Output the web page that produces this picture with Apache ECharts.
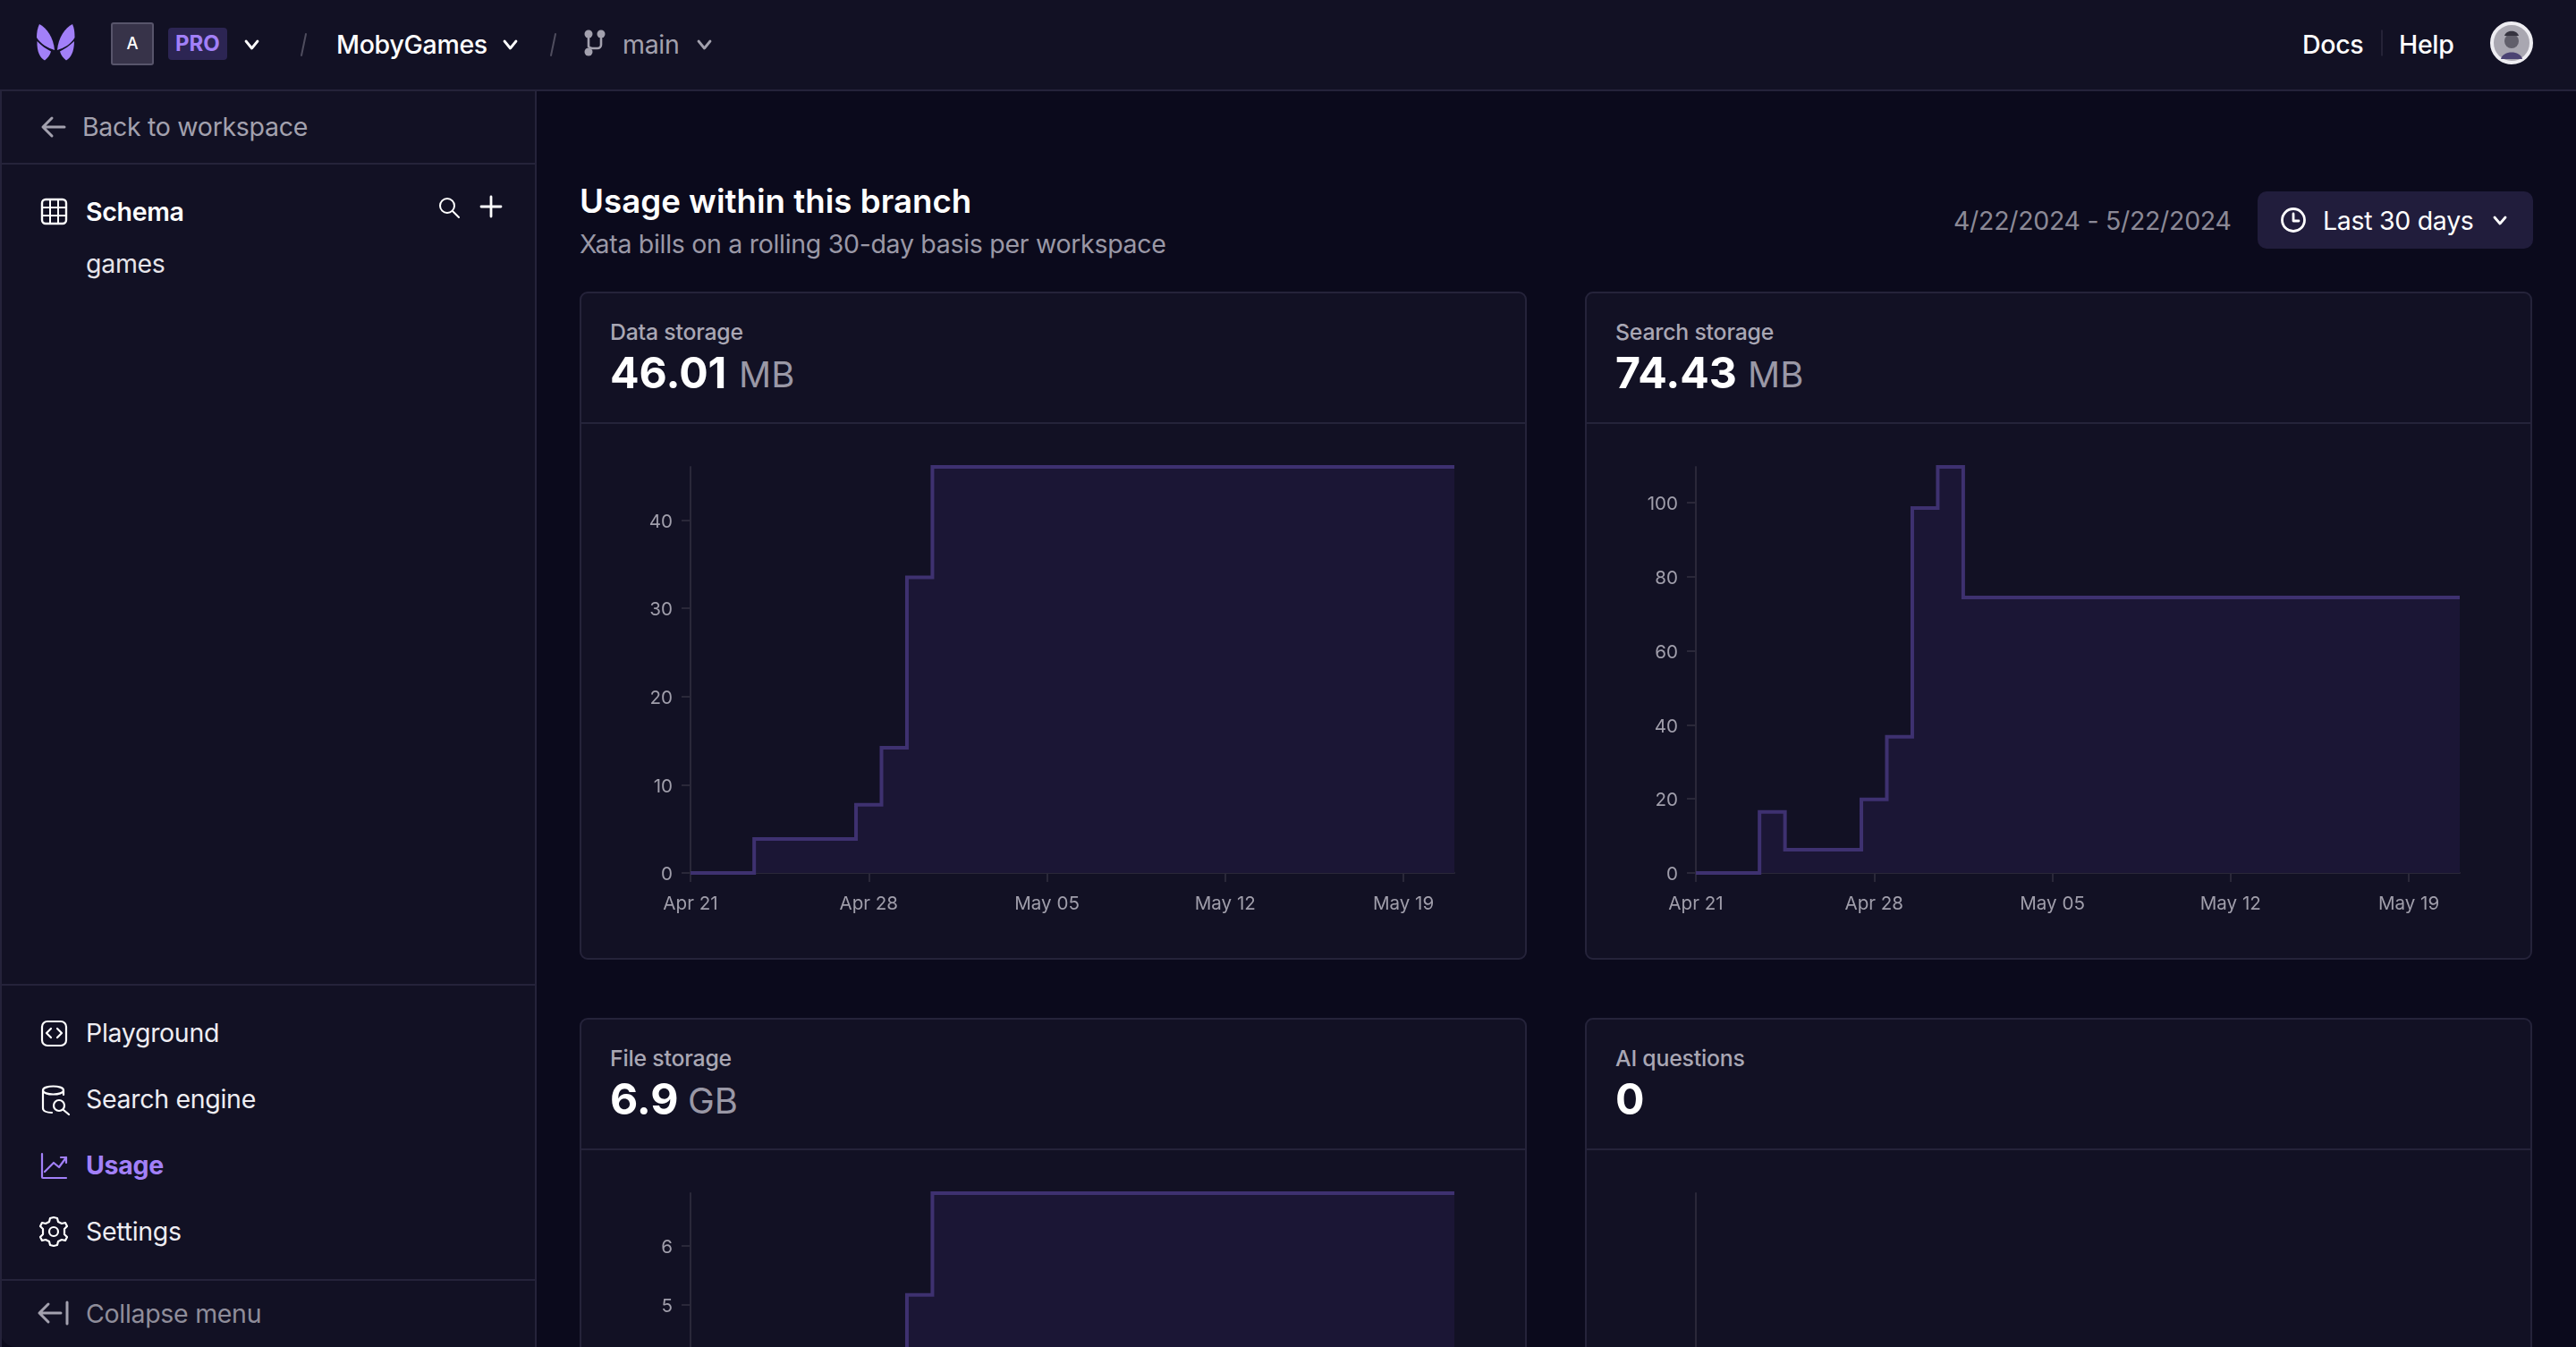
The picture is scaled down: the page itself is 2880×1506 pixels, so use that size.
<!DOCTYPE html>
<html><head><meta charset="utf-8">
<script src="https://cdn.jsdelivr.net/npm/echarts@6/dist/echarts.min.js"></script>
<style>
html,body{margin:0;padding:0;width:2880px;height:1506px;overflow:hidden;background:#0b0a1c;font-family:Inter,sans-serif;color:#fff}
.abs{position:absolute}
.t{position:absolute;white-space:nowrap;transform:translateY(-50%);line-height:1;font-size:28.5px;letter-spacing:-0.3px}
.k{font-size:24.8px;letter-spacing:-0.2px;font-weight:500;color:#a9a7b4}
.v{font-size:48.2px;letter-spacing:0;font-weight:700}
.u{font-size:40px;letter-spacing:0;color:#9a98a6}
.g{color:#a3a1ae}
.line{position:absolute;background:#25233a}
.card{position:absolute;box-sizing:border-box;background:#121124;border:2px solid #25233a;border-radius:9px;width:1059px;height:747px}
svg{position:absolute;fill:none;stroke-linecap:round;stroke-linejoin:round;overflow:visible}
#chart{position:absolute;left:0;top:0;width:2880px;height:1506px;z-index:5}
</style></head><body>
<!-- top bar and sidebar -->
<div class="abs" style="left:0;top:0;width:2880px;height:100px;background:#121124"></div>
<div class="abs" style="left:0;top:100px;width:598px;height:1406px;background:#121124;border-bottom-left-radius:18px"></div>
<div class="line" style="left:0;top:100px;width:2880px;height:2px"></div>
<div class="line" style="left:598px;top:100px;width:2px;height:1406px"></div>
<div class="line" style="left:0;top:100px;width:2px;height:1406px"></div>
<div class="line" style="left:0;top:182px;width:598px;height:2px"></div>
<div class="line" style="left:0;top:1100px;width:598px;height:2px"></div>
<div class="line" style="left:0;top:1430px;width:598px;height:2px"></div>

<svg style="left:0;top:0" width="100" height="90">
<g fill="#a280f8" stroke="none">
<path d="M44 27C52 31 60 42 61 56C54 54 45 49 41 42C41 36 42 31 44 27Z"/>
<path d="M81 27C73 31 65 42 64 56C71 54 80 49 83.500 42C83.500 36 83 31 81 27Z"/>
<path d="M41.500 46C46 51 52 55 57 57.500C56 62 53 65 50 67.500C45 65 41 58 41.500 46Z"/>
<path d="M83 46C78 51 72 55 67 57.500C68 62 71 65 74 67.500C79 65 83 58 83 46Z"/>
</g></svg>
<div class="abs" style="left:124px;top:25px;width:48px;height:48px;box-sizing:border-box;background:#373349;border:2px solid #58556b;border-radius:3px"></div>
<div class="t" style="left:148px;top:48px;font-size:18.5px;letter-spacing:0;transform:translate(-50%,-50%);font-weight:500">A</div>
<div class="abs" style="left:188px;top:31px;width:66px;height:36px;background:#2c2553;border-radius:4px"></div>
<div class="t" style="left:196px;top:49px;font-size:24px;letter-spacing:0;font-weight:700;color:#a280f8">PRO</div>
<svg style="left:0;top:0" width="10" height="10" stroke="#fff">
<path d="M275 46l6.500 8 6.500-8" stroke="#fff" stroke-width="2.800"/>
<path d="M564 46l6.500 8 6.500-8" stroke="#fff" stroke-width="2.800"/>
<path d="M781 46l6.500 8 6.500-8" stroke="#a3a1ae" stroke-width="2.800"/>
<path d="M342 38l-5 24" stroke="#4f4d5e" stroke-width="2"/>
<path d="M621 38l-5 24" stroke="#4f4d5e" stroke-width="2"/>
<path d="M658 40v12M658 52a6 4 0 0 0 4 2h6a4 4 0 0 0 4-4v-7" stroke="#a3a1ae" stroke-width="2.600"/>
<circle cx="658" cy="38" r="4.500" fill="#a3a1ae" stroke="none"/><circle cx="672" cy="38" r="4.500" fill="#a3a1ae" stroke="none"/><circle cx="658" cy="58" r="4.500" fill="#a3a1ae" stroke="none"/>
<!-- sidebar icons -->
<path d="M72 142H48M58 132l-10 10 10 10" stroke="#a3a1ae" stroke-width="3"/>
<rect x="47" y="223" width="27" height="27" rx="4" stroke="#fff" stroke-width="2.400"/>
<path d="M47 232h27M47 241h27M56 223v27M65 223v27" stroke="#fff" stroke-width="2"/>
<circle cx="500" cy="230" r="8" stroke="#fff" stroke-width="2"/><path d="M506 236l7 7" stroke="#fff" stroke-width="2"/>
<path d="M549 220v22M538 231h22" stroke="#fff" stroke-width="2.800"/>
<rect x="47" y="1142" width="27" height="27" rx="6" stroke="#fff" stroke-width="2.200"/>
<path d="M57 1150l-5 5 5 5M64 1150l5 5-5 5" stroke="#fff" stroke-width="2.200"/>
<path d="M71 1224v-5c0-6-23-6-23 0v20c0 3 4 5 10 5M48 1219c0 6 23 6 23 0" stroke="#fff" stroke-width="2.200"/>
<circle cx="66" cy="1236" r="6" stroke="#fff" stroke-width="2.200"/><path d="M71 1241l6 5" stroke="#fff" stroke-width="2.200"/>
<path d="M47 1290v26a1 1 0 0 0 1 1h26M50 1310l10-10 6 5 8-11M68 1294h6v6" stroke="#a280f8" stroke-width="2.200"/>
<circle cx="60" cy="1377" r="5" stroke="#fff" stroke-width="2.200"/>
<path d="M60 1361l4 1 1 4 4 2 4-1 2 4-3 3v6l3 3-2 4-4-1-4 2-1 4-4 1-4-1-1-4-4-2-4 1-2-4 3-3v-6l-3-3 2-4 4 1 4-2 1-4z" stroke="#fff" stroke-width="2.200"/>
<path d="M68 1468H44M54 1458l-10 10 10 10M75 1456v24" stroke="#a3a1ae" stroke-width="3"/>
<!-- top bar right -->
<path d="M2663 34v28" stroke="#2c2a3e" stroke-width="1.500"/>
<circle cx="2808" cy="48" r="22" fill="#a9a7b1" stroke="#eeedf2" stroke-width="4"/>
<circle cx="2808" cy="46" r="8" fill="#615f6b" stroke="none"/><path d="M2800 40c2-7 14-7 16 0z" fill="#35333f" stroke="none"/><path d="M2796 66c2-10 22-10 24 0z" fill="#4b4373" stroke="none"/>
</svg>

<div class="t" style="left:376px;top:50px;font-weight:500">MobyGames</div>
<div class="t g" style="left:696px;top:50px">main</div>
<div class="t" style="left:2574px;top:50px;font-weight:500">Docs</div>
<div class="t" style="left:2682px;top:50px;font-weight:500">Help</div>
<div class="t g" style="left:92px;top:142px">Back to workspace</div>
<div class="t" style="left:96px;top:237px;font-weight:600">Schema</div>
<div class="t" style="left:96px;top:295px;color:#e6e5ea">games</div>
<div class="t" style="left:96px;top:1155px;color:#eeedf2">Playground</div>
<div class="t" style="left:96px;top:1229px;color:#eeedf2">Search engine</div>
<div class="t" style="left:96px;top:1303px;font-weight:700;color:#a280f8">Usage</div>
<div class="t" style="left:96px;top:1377px;color:#eeedf2">Settings</div>
<div class="t" style="left:96px;top:1469px;color:#8f8d9a">Collapse menu</div>

<!-- page header -->
<div class="t" style="left:648px;top:225px;font-size:36.7px;letter-spacing:0;font-weight:600">Usage within this branch</div>
<div class="t" style="left:648px;top:273px;color:#9a98a6">Xata bills on a rolling 30-day basis per workspace</div>
<div class="t" style="left:2184px;top:247px;color:#8b8996">4/22/2024 - 5/22/2024</div>
<div class="abs" style="left:2524px;top:214px;width:308px;height:64px;background:#211d3c;border-radius:10px"></div>
<div class="t" style="left:2597px;top:247px;z-index:3">Last 30 days</div>
<svg style="left:0;top:0;z-index:3" width="10" height="10"><circle cx="2564" cy="246" r="12.500" stroke="#fff" stroke-width="2.800"/><path d="M2564 239v8h6" stroke="#fff" stroke-width="2.800"/><path d="M2789 243l6 7 6-7" stroke="#fff" stroke-width="2.800"/></svg>

<!-- cards -->
<div class="card" style="left:648px;top:326px"></div>
<div class="card" style="left:1772px;top:326px"></div>
<div class="card" style="left:648px;top:1138px"></div>
<div class="card" style="left:1772px;top:1138px"></div>
<div class="line" style="left:648px;top:472px;width:1059px;height:2px"></div>
<div class="line" style="left:1772px;top:472px;width:1059px;height:2px"></div>
<div class="line" style="left:648px;top:1284px;width:1059px;height:2px"></div>
<div class="line" style="left:1772px;top:1284px;width:1059px;height:2px"></div>

<div class="t k" style="left:682px;top:371px">Data storage</div>
<div class="t v" style="left:682px;top:416.500px">46.01</div>
<div class="t u" style="left:826px;top:419px">MB</div>
<div class="t k" style="left:1806px;top:371px">Search storage</div>
<div class="t v" style="left:1806px;top:416.500px">74.43</div>
<div class="t u" style="left:1954px;top:419px">MB</div>
<div class="t k" style="left:682px;top:1183px">File storage</div>
<div class="t v" style="left:682px;top:1228.500px">6.9</div>
<div class="t u" style="left:769px;top:1231px">GB</div>
<div class="t k" style="left:1806px;top:1183px">AI questions</div>
<div class="t v" style="left:1806px;top:1228.500px">0</div>

<div id="chart"></div>
<script>
const dates = ['Apr 21','Apr 22','Apr 23','Apr 24','Apr 25','Apr 26','Apr 27','Apr 28','Apr 29','Apr 30','May 01','May 02','May 03','May 04','May 05','May 06','May 07','May 08','May 09','May 10','May 11','May 12','May 13','May 14','May 15','May 16','May 17','May 18','May 19','May 20','May 21'];
const dataStorage = [0,0,0,3.85,3.85,3.85,3.85,7.74,14.2,33.5,46.01,46.01,46.01,46.01,46.01,46.01,46.01,46.01,46.01,46.01,46.01,46.01,46.01,46.01,46.01,46.01,46.01,46.01,46.01,46.01,46.01];
const searchStorage = [0,0,0,16.5,6.3,6.3,6.3,19.9,36.8,98.6,109.7,74.43,74.43,74.43,74.43,74.43,74.43,74.43,74.43,74.43,74.43,74.43,74.43,74.43,74.43,74.43,74.43,74.43,74.43,74.43,74.43];
const fileStorage = [0,0,0,0.58,0.58,0.58,0.58,1.16,2.13,5.17,6.9,6.9,6.9,6.9,6.9,6.9,6.9,6.9,6.9,6.9,6.9,6.9,6.9,6.9,6.9,6.9,6.9,6.9,6.9,6.9,6.9];
const aiQuestions = [0,0,0,0,0,0,0,0,0,0,0,0,0,0,0,0,0,0,0,0,0,0,0,0,0,0,0,0,0,0,0];
const dataTicks = [0,10,20,30,40];
const searchTicks = [0,20,40,60,80,100];
const fileTicks = [0,1,2,3,4,5,6];
const aiTicks = [0];

const panels = [
  {values:dataStorage, ticks:dataTicks, left:772, top:522, max:46.01},
  {values:searchStorage, ticks:searchTicks, left:1896, top:522, max:109.7},
  {values:fileStorage, ticks:fileTicks, left:772, top:1334, max:6.9},
  {values:aiQuestions, ticks:aiTicks, left:1896, top:1334, max:1}
];
const axisCol = '#2a2839', labelCol = '#a09eab';
const axisLine = {show:true, onZero:false, lineStyle:{color:axisCol, width:2}};
const font = {fontFamily:'Inter', fontSize:20.6, color:labelCol};
const option = {
  animation:false,
  backgroundColor:'transparent',
  grid:panels.map(p=>({left:p.left, top:p.top, width:854, height:454, containLabel:false, outerBoundsMode:'none'})),
  xAxis:panels.map((p,i)=>({
    type:'category', gridIndex:i, data:dates, boundaryGap:false,
    axisLine:axisLine,
    axisTick:{show:true, length:10, interval:6, lineStyle:{color:axisCol, width:2}},
    axisLabel:Object.assign({interval:6, margin:24}, font),
    splitLine:{show:false}
  })),
  yAxis:panels.map((p,i)=>({
    type:'value', gridIndex:i, min:0, max:p.max,
    axisLine:axisLine,
    axisTick:{show:true, length:10, customValues:p.ticks, lineStyle:{color:axisCol, width:2}},
    axisLabel:Object.assign({customValues:p.ticks, margin:20, formatter:'{v|{value}}',
      rich:{v:Object.assign({padding:[4,0,0,0]}, font)}}, font),
    splitLine:{show:false}
  })),
  series:panels.map((p,i)=>({
    type:'line', xAxisIndex:i, yAxisIndex:i, data:p.values,
    step:'middle', symbol:'none', clip:false, z:3,
    lineStyle:{color:'#3e3170', width:4, join:'miter'},
    areaStyle:{color:'#1b1635', opacity:1}
  }))
};
echarts.init(document.getElementById('chart')).setOption(option);
</script>
</body></html>
